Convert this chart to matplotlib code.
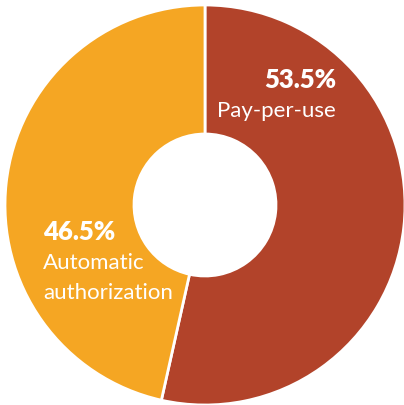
import matplotlib.pyplot as plt

# Dane
labels = ['Pay-per-use', 'Automatic', 'authorization']
values = [53.5, 46.5]
colors = ['#B2432A', '#F5A623']

fig = plt.figure(figsize=(4.04, 4.06), dpi=100)
ax = fig.add_axes([0, 0, 1, 1])
ax.axis('off')

ax.pie(values, colors=colors, startangle=90, counterclock=False,
       radius=200, center=(205, 200),
       wedgeprops=dict(width=129, edgecolor='white', linewidth=2))
ax.set_xlim(0, 404)
ax.set_ylim(0, 406)
ax.set_aspect('equal')

font = 'Lato'
# Etykiety
ax.text(336, 326, f'{values[0]}%', ha='right', va='center', color='white',
        fontsize=18.5, fontweight='heavy', family=font)
ax.text(336, 295, labels[0], ha='right', va='center', color='white',
        fontsize=16, family=font)
ax.text(43, 174, f'{values[1]}%', ha='left', va='center', color='white',
        fontsize=18.5, fontweight='heavy', family=font)
ax.text(43, 143, labels[1], ha='left', va='center', color='white',
        fontsize=16, family=font)
ax.text(43, 113, labels[2], ha='left', va='center', color='white',
        fontsize=16, family=font)

fig.savefig('out.png', dpi=100)
